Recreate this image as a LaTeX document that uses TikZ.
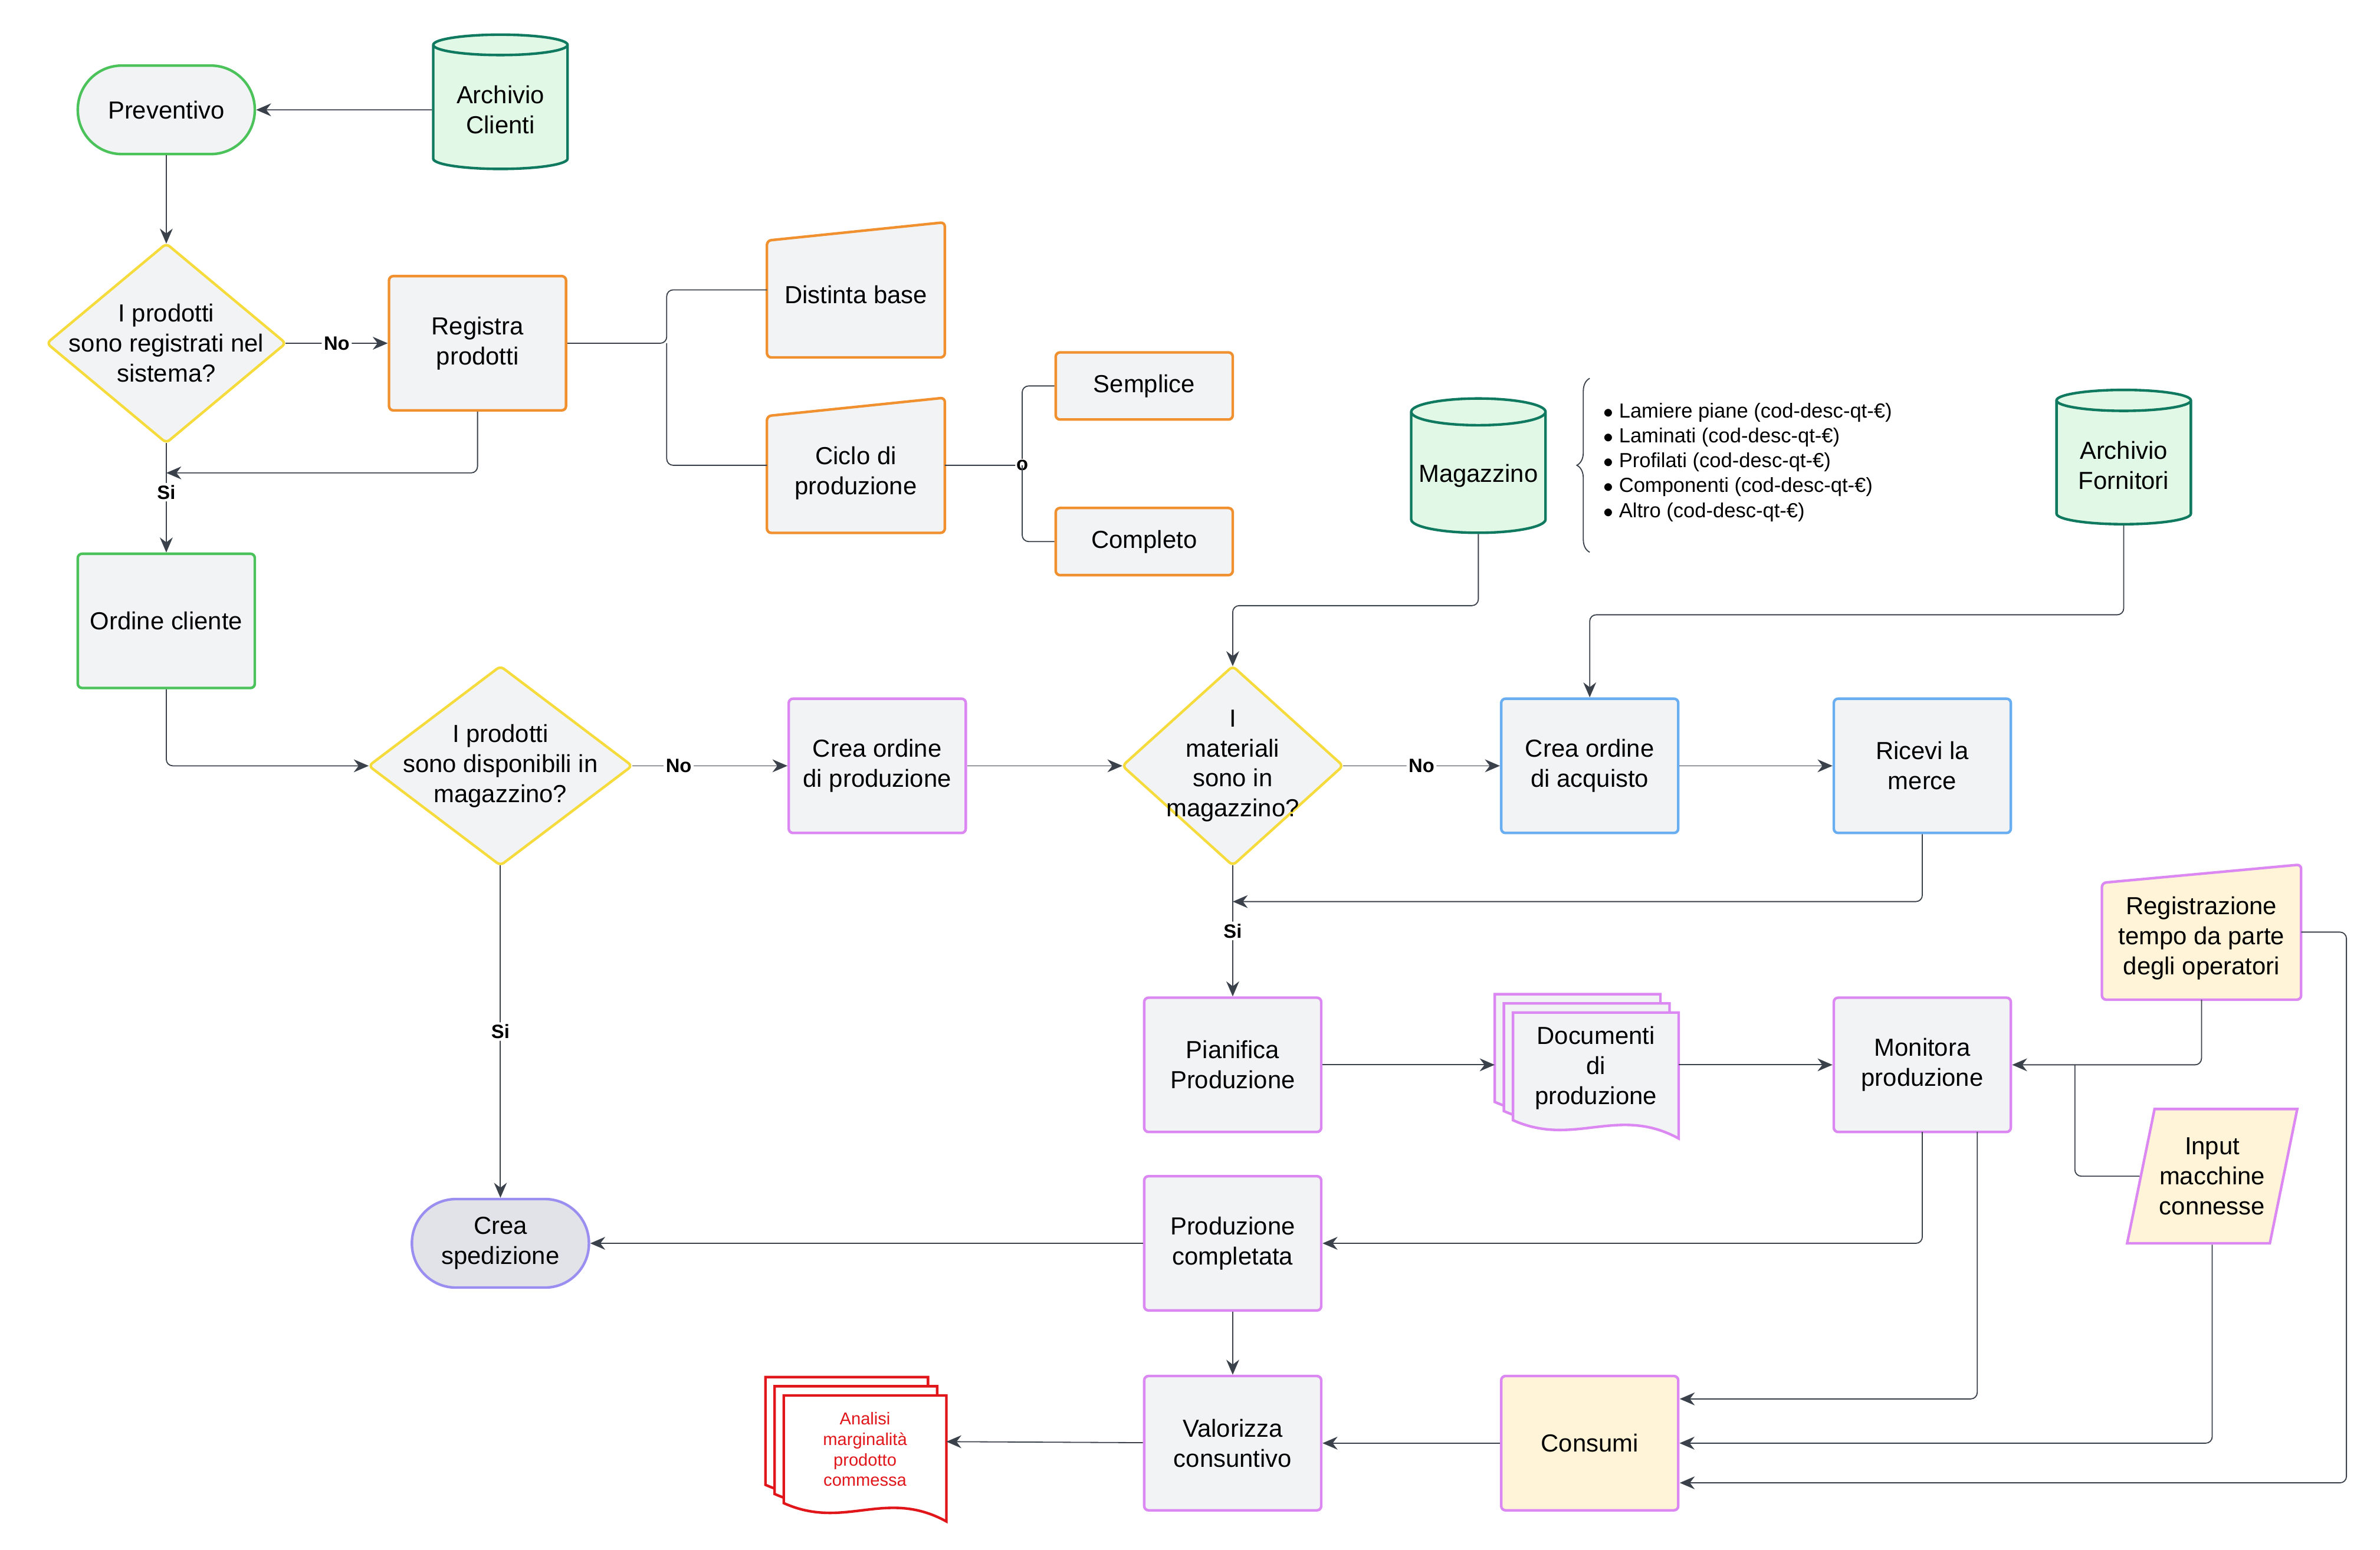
\documentclass[tikz,border=0pt]{standalone}
\usepackage{fontspec}
\setmainfont{Liberation Sans}
\usetikzlibrary{shapes.geometric, calc, arrows.meta, decorations.pathreplacing}
\definecolor{BoxFill}{HTML}{F2F3F5}
\definecolor{GreenLine}{HTML}{4CC25B}
\definecolor{DbLine}{HTML}{0F7A5F}
\definecolor{DbFill}{HTML}{E2F8E6}
\definecolor{OrangeLine}{HTML}{F0902F}
\definecolor{YellowLine}{HTML}{F5DB3C}
\definecolor{PurpleLine}{HTML}{DB88F2}
\definecolor{BlueLine}{HTML}{6AAEF2}
\definecolor{CreamFill}{HTML}{FFF3D8}
\definecolor{RedLine}{HTML}{E0161B}
\definecolor{EdgeGray}{HTML}{3A414A}
\definecolor{PillLine}{HTML}{9A8FF0}
\definecolor{PillFill}{HTML}{E1E3E8}
\tikzset{
    box/.style={draw, line width=1.2pt, fill=BoxFill, minimum width=2.9cm, minimum height=2.2cm,
        rounded corners=2pt, align=center, font=\fontsize{11.5}{14}\selectfont},
    green box/.style={box, draw=GreenLine},
    orange box/.style={box, draw=OrangeLine},
    purple box/.style={box, draw=PurpleLine},
    blue box/.style={box, draw=BlueLine},
    cream box/.style={box, draw=PurpleLine, fill=CreamFill},
    pill/.style={box, rounded corners=0.72cm, minimum height=1.45cm},
    database/.style={cylinder, shape border rotate=90, aspect=0.2, draw=DbLine, fill=DbFill,
        line width=1.2pt, minimum width=2.2cm, minimum height=2.2cm, align=center,
        font=\fontsize{11.5}{14}\selectfont},
    plain text/.style={align=center, font=\fontsize{11.5}{14}\selectfont},
    link/.style={draw=EdgeGray, line width=0.5pt, rounded corners=3pt},
    arrow/.style={link, -{Stealth[length=7pt, width=6pt]}},
    tag/.style={fill=white, inner sep=1pt, font=\bfseries\fontsize{9}{10}\selectfont}
}
% documento con bordo ondulato
\newcommand{\docpath}[3]{
    \path[#2] ($(#1.north west)+(#3)$) -- ($(#1.north east)+(#3)$)
        -- ($(#1.south east)+(#3)+(0,6)$)
        .. controls ($(#1.south east)+(#3)+(-40,-16)$) and ($(#1.south west)+(#3)+(40,12)$)
        .. ($(#1.south west)+(#3)+(0,-6)$) -- cycle;
}
% ingresso manuale (lato superiore inclinato)
\newcommand{\manualpath}[2]{
    \path[#2] ($(#1.north west)+(0,12)$) -- (#1.north east) -- (#1.south east)
        -- (#1.south west) -- cycle;
}
% rombo di decisione
\newcommand{\decisionpath}[1]{
    \path[draw=YellowLine, fill=BoxFill, line width=1.2pt, rounded corners=2pt]
        (#1.north) -- (#1.east) -- (#1.south) -- (#1.west) -- cycle;
}
\begin{document}
\begin{tikzpicture}[x=0.025cm, y=-0.025cm]
\useasboundingbox (0,0) rectangle (1560,1016);

% Prima colonna
\node[pill, draw=GreenLine, minimum height=1.45cm] (preventivo) at (109,72) {Preventivo};
\node[database] (clienti) at (328,72) {Archivio\\Clienti};
\node[rectangle, inner sep=0pt, minimum width=3.9cm, minimum height=3.25cm] (registrati) at (109,225) {};
\decisionpath{registrati}
\node[plain text] at (registrati) {I prodotti\\sono registrati nel\\sistema?};
\node[orange box] (registra) at (313,225) {Registra\\prodotti};
\node[plain text, minimum width=2.9cm, minimum height=2.2cm] (distinta) at (561,190) {};
\node[plain text, minimum width=2.9cm, minimum height=2.2cm] (ciclo) at (561,305) {};
\manualpath{distinta}{draw=OrangeLine, fill=BoxFill, line width=1.2pt, rounded corners=2pt}
\manualpath{ciclo}{draw=OrangeLine, fill=BoxFill, line width=1.2pt, rounded corners=2pt}
\node[plain text] at ($(distinta)+(0,3)$) {Distinta base};
\node[plain text] at ($(ciclo)+(0,5)$) {Ciclo di\\produzione};
\node[orange box, minimum height=1.1cm] (semplice) at (750,253) {Semplice};
\node[orange box, minimum height=1.1cm] (completo) at (750,355) {Completo};
\node[green box] (ordine) at (109,407) {Ordine cliente};

% Magazzino e fornitori
\node[database] (magazzino) at (969,312) {Magazzino};
\draw[decorate, decoration={brace, amplitude=6pt}, draw=EdgeGray, line width=0.5pt]
    (1042,362) -- (1042,248);
\node[anchor=west, align=left, font=\fontsize{9.5}{11.6}\selectfont] (lista) at (1046,303)
    {$\bullet$\ Lamiere piane (cod-desc-qt-€)\\
     $\bullet$\ Laminati (cod-desc-qt-€)\\
     $\bullet$\ Profilati (cod-desc-qt-€)\\
     $\bullet$\ Componenti (cod-desc-qt-€)\\
     $\bullet$\ Altro (cod-desc-qt-€)};
\node[database] (fornitori) at (1392,305) {Archivio\\Fornitori};

% Riga centrale
\node[rectangle, inner sep=0pt, minimum width=4.3cm, minimum height=3.25cm] (disponibili) at (328,502) {};
\decisionpath{disponibili}
\node[plain text] at (disponibili) {I prodotti\\sono disponibili in\\magazzino?};
\node[purple box] (creaprod) at (575,502) {Crea ordine\\di produzione};
\node[rectangle, inner sep=0pt, minimum width=3.6cm, minimum height=3.25cm] (materiali) at (808,502) {};
\decisionpath{materiali}
\node[plain text] at (materiali) {I\\materiali\\sono in\\magazzino?};
\node[blue box] (acquisto) at (1042,502) {Crea ordine\\di acquisto};
\node[blue box] (ricevi) at (1260,502) {Ricevi la\\merce};

% Produzione
\node[purple box] (pianifica) at (808,698) {Pianifica\\Produzione};
\node[plain text, minimum width=2.7cm, minimum height=1.9cm] (documenti) at (1046,702) {};
\docpath{documenti}{draw=PurpleLine, fill=BoxFill, line width=1.2pt}{-12,-12}
\docpath{documenti}{draw=PurpleLine, fill=BoxFill, line width=1.2pt}{-6,-6}
\docpath{documenti}{draw=PurpleLine, fill=BoxFill, line width=1.2pt}{0,0}
\node[plain text] at ($(documenti)+(0,-2)$) {Documenti\\di\\produzione};
\node[purple box] (monitora) at (1260,698) {Monitora\\produzione};
\node[plain text, minimum width=3.25cm, minimum height=2.2cm] (tempo) at (1443,611) {};
\manualpath{tempo}{draw=PurpleLine, fill=CreamFill, line width=1.2pt, rounded corners=2pt}
\node[plain text] at ($(tempo)+(0,4)$) {Registrazione\\tempo da parte\\degli operatori};
\node[trapezium, trapezium left angle=72, trapezium right angle=108, draw=PurpleLine,
    fill=CreamFill, line width=1.2pt, minimum width=2.8cm, minimum height=2.2cm,
    trapezium stretches=true, inner sep=0pt, plain text] (macchine) at (1450,771)
    {Input\\macchine\\connesse};
\node[pill, draw=PillLine, fill=PillFill] (spedizione) at (328,815) {Crea\\spedizione};
\node[purple box] (completata) at (808,815) {Produzione\\completata};
\node[purple box] (valorizza) at (808,946) {Valorizza\\consuntivo};
\node[cream box] (consumi) at (1042,946) {Consumi};
\node[minimum width=2.65cm, minimum height=1.9cm] (analisi) at (567,953) {};
\docpath{analisi}{draw=RedLine, fill=white, line width=1.2pt}{-12,-12}
\docpath{analisi}{draw=RedLine, fill=white, line width=1.2pt}{-6,-6}
\docpath{analisi}{draw=RedLine, fill=white, line width=1.2pt}{0,0}
\node[align=center, text=RedLine, font=\fontsize{8}{9.6}\selectfont] at ($(analisi)+(0,-3)$)
    {Analisi\\marginalità\\prodotto\\commessa};

% Collegamenti
\draw[arrow] (clienti) -- (preventivo);
\draw[arrow] (preventivo) -- (registrati.north);
\draw[arrow] (registrati.east) -- node[tag] {No} (registra);
\draw[arrow] (registra.south) |- (109,310);
\draw[arrow] (registrati.south) -- node[tag, pos=0.45] {Si} (ordine);
\draw[link] (registra.east) -- (437,225) |- (distinta.west);
\draw[link] (437,225) |- (ciclo.west);
\draw[link] (ciclo.east) -- node[tag, pos=1, inner sep=0.5pt] {o} (670,305) |- (semplice.west);
\draw[link] (670,305) |- (completo.west);
\draw[arrow] (ordine.south) |- (disponibili.west);
\draw[arrow] (disponibili.east) -- node[tag, pos=0.3] {No} (creaprod);
\draw[arrow] (disponibili.south) -- node[tag] {Si} (spedizione);
\draw[arrow] (creaprod) -- (materiali.west);
\draw[arrow] (magazzino.south) |- (808,397) -- (materiali.north);
\draw[arrow] (materiali.east) -- node[tag, pos=0.5] {No} (acquisto);
\draw[arrow] (fornitori.south) |- (1042,403) -- (acquisto.north);
\draw[arrow] (acquisto) -- (ricevi);
\draw[arrow] (ricevi.south) |- (808,591);
\draw[arrow] (materiali.south) -- node[tag, pos=0.5] {Si} (pianifica);
\draw[arrow] (pianifica) -- ($(documenti.west |- pianifica)+(-12,0)$);
\draw[arrow] (documenti.east |- monitora) -- (monitora);
\draw[arrow] (tempo.south) |- (monitora.east);
\draw[link] (macchine.west) -| (1360,698);
\draw[arrow] (1260,742) |- (completata.east);
\draw[arrow] (1296,742) |- (1101,917);
\draw[arrow] (macchine.south) |- (consumi.east);
\draw[arrow] (tempo.east) -- (1538,611) |- (1101,972);
\draw[arrow] (completata) -- (spedizione);
\draw[arrow] (completata) -- (valorizza);
\draw[arrow] (consumi) -- (valorizza);
\draw[arrow] (valorizza) -- ($(analisi.east)+(0,-8)$);

\end{tikzpicture}
\end{document}
